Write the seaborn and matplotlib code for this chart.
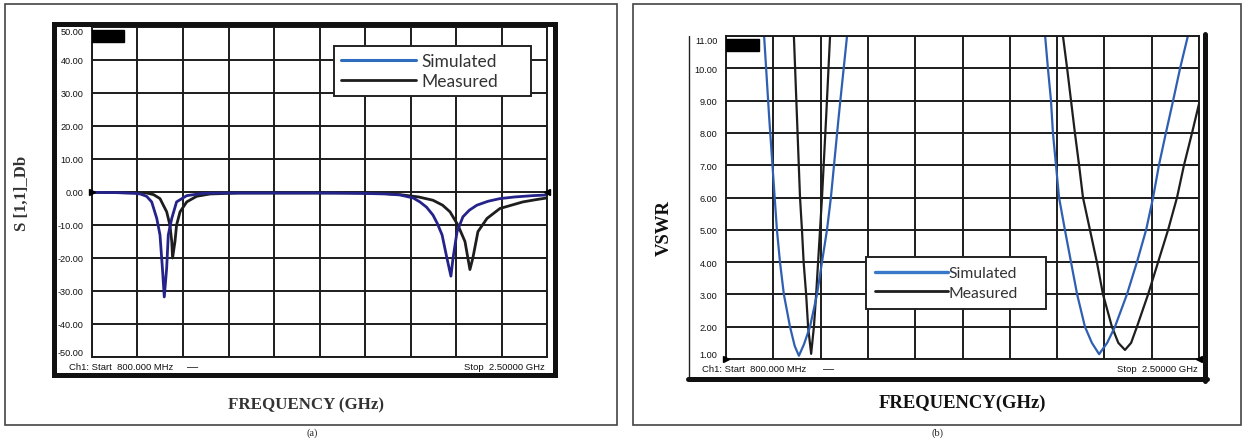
import numpy as np
import pandas as pd
import matplotlib
matplotlib.use("Agg")
import matplotlib.pyplot as plt
import seaborn as sns
from matplotlib.patches import Rectangle
from matplotlib.lines import Line2D

# ---------------- data ----------------
# (a) S11 in dB
s11_sim_f = [0.80, 0.90, 0.96, 0.98, 1.004, 1.023, 1.042, 1.054, 1.063, 1.070,
             1.079, 1.085, 1.098, 1.116, 1.154, 1.215, 1.30, 1.50, 1.70, 1.80,
             1.90, 1.951, 2.00, 2.025, 2.05, 2.074, 2.09, 2.108, 2.126, 2.141,
             2.149, 2.164, 2.186, 2.21, 2.238, 2.28, 2.324, 2.38, 2.448, 2.50]
s11_sim_v = [-0.1, -0.2, -0.4, -0.6, -1.3, -3.0, -8.0, -13.0, -23.0, -31.8,
             -23.0, -13.0, -8.0, -3.0, -1.1, -0.4, -0.3, -0.3, -0.3, -0.4,
             -0.6, -0.9, -1.8, -3.0, -4.6, -7.0, -9.5, -13.0, -20.0, -25.5,
             -20.0, -12.0, -7.5, -5.5, -4.0, -2.8, -2.0, -1.5, -1.1, -0.9]

s11_mea_f = [0.80, 0.90, 1.004, 1.03, 1.054, 1.079, 1.091, 1.098, 1.101, 1.110,
             1.116, 1.129, 1.154, 1.191, 1.241, 1.35, 1.55, 1.75, 1.876, 1.951,
             2.02, 2.074, 2.11, 2.1375, 2.167, 2.1935, 2.212, 2.223, 2.242, 2.276,
             2.324, 2.41, 2.46, 2.50]
s11_mea_v = [-0.1, -0.2, -0.3, -0.8, -2.0, -6.0, -10.0, -15.0, -20.0, -15.0,
             -10.0, -6.0, -3.0, -1.3, -0.6, -0.3, -0.3, -0.3, -0.4, -0.8,
             -1.5, -2.5, -4.0, -6.0, -10.0, -15.0, -23.5, -20.0, -12.0, -8.0,
             -5.0, -3.0, -2.3, -1.8]

# (b) VSWR, two bands per series
vswr_sim_f1 = [0.937, 0.955, 0.975, 0.983, 0.994, 1.008, 1.030, 1.047, 1.062,
               1.080, 1.102, 1.127, 1.145, 1.163, 1.177, 1.205, 1.235]
vswr_sim_v1 = [11.0, 8.5, 6.0, 5.0, 4.0, 3.0, 2.0, 1.4, 1.1,
               1.45, 2.0, 3.0, 4.0, 5.0, 6.0, 8.5, 11.0]
vswr_sim_f2 = [1.947, 1.957, 1.968, 1.975, 1.986, 1.997, 2.018, 2.040, 2.062,
               2.090, 2.115, 2.141, 2.170, 2.198, 2.241, 2.277, 2.310, 2.335,
               2.356, 2.381, 2.407, 2.432, 2.460]
vswr_sim_v2 = [11.0, 10.0, 9.0, 8.0, 7.0, 6.0, 5.0, 4.0, 3.0,
               2.0, 1.5, 1.15, 1.5, 2.0, 3.0, 4.0, 5.0, 6.0,
               7.0, 8.0, 9.0, 10.0, 11.0]
vswr_mea_f1 = [1.044, 1.066, 1.073, 1.079, 1.088, 1.095, 1.106, 1.116, 1.124,
               1.131, 1.138, 1.145, 1.160, 1.174]
vswr_mea_v1 = [11.0, 6.0, 5.0, 4.0, 3.0, 2.0, 1.16, 2.0, 3.0,
               4.0, 5.0, 6.0, 8.5, 11.0]
vswr_mea_f2 = [2.011, 2.026, 2.040, 2.054, 2.069, 2.083, 2.108, 2.133, 2.155,
               2.187, 2.210, 2.234, 2.256, 2.277, 2.317, 2.353, 2.389, 2.421,
               2.446, 2.475, 2.50]
vswr_mea_v2 = [11.0, 10.0, 9.0, 8.0, 7.0, 6.0, 5.0, 4.0, 3.0,
               2.0, 1.5, 1.28, 1.5, 2.0, 3.0, 4.0, 5.0, 6.0,
               7.0, 8.0, 8.9]

series_names = ["Simulated", "Measured"]
s11_ticks = [-50, -40, -30, -20, -10, 0, 10, 20, 30, 40, 50]
vswr_ticks = [1, 2, 3, 4, 5, 6, 7, 8, 9, 10, 11]
f_start, f_stop = 0.8, 2.5

# ---------------- tables ----------------
df_a = pd.concat([
    pd.DataFrame({"freq": s11_sim_f, "val": s11_sim_v, "series": "Simulated", "seg": 0}),
    pd.DataFrame({"freq": s11_mea_f, "val": s11_mea_v, "series": "Measured", "seg": 0}),
], ignore_index=True)
df_b = pd.concat([
    pd.DataFrame({"freq": vswr_sim_f1, "val": vswr_sim_v1, "series": "Simulated", "seg": 1}),
    pd.DataFrame({"freq": vswr_sim_f2, "val": vswr_sim_v2, "series": "Simulated", "seg": 2}),
    pd.DataFrame({"freq": vswr_mea_f1, "val": vswr_mea_v1, "series": "Measured", "seg": 3}),
    pd.DataFrame({"freq": vswr_mea_f2, "val": vswr_mea_v2, "series": "Measured", "seg": 4}),
], ignore_index=True)

# ---------------- style ----------------
sns.set_style("white")
plt.rcParams["font.family"] = ["Liberation Sans", "DejaVu Sans"]

W, H = 1248, 439
fig = plt.figure(figsize=(W / 100, H / 100), dpi=100)
fig.patch.set_facecolor("white")

def fx(px):
    return px / W

def fy(py):
    return 1 - py / H

grid_col = "#1c1c1c"
ax_a = fig.add_axes([fx(92), fy(358), 455 / W, 330 / H])
ax_b = fig.add_axes([fx(726), fy(360), 473 / W, 323 / H])

xt = [f_start + k * (f_stop - f_start) / 10 for k in range(11)]

sns.lineplot(data=df_a, x="freq", y="val", hue="series", units="seg", estimator=None,
             palette={"Simulated": "#24238a", "Measured": "#1e1e1e"},
             hue_order=["Measured", "Simulated"], sort=False, legend=False,
             ax=ax_a, linewidth=2.0)
sns.lineplot(data=df_b, x="freq", y="val", hue="series", units="seg", estimator=None,
             palette={"Simulated": "#2f5fb3", "Measured": "#1e1e1e"},
             hue_order=["Measured", "Simulated"], sort=False, legend=False,
             ax=ax_b, linewidth=1.6)

for ax, ticks, lo, hi in [(ax_a, s11_ticks, -50, 50), (ax_b, vswr_ticks, 1, 11)]:
    ax.set_xlim(f_start, f_stop)
    ax.set_ylim(lo, hi)
    ax.set_xticks(xt)
    ax.set_xticklabels([])
    ax.set_yticks(ticks)
    ax.set_yticklabels([f"{t:.2f}" for t in ticks], fontsize=6.6, color="#111111")
    ax.tick_params(axis="both", length=0, pad=6)
    ax.grid(True, color=grid_col, linewidth=1.4)
    ax.set_axisbelow(True)
    for sp in ax.spines.values():
        sp.set_color(grid_col)
        sp.set_linewidth(1.4)
    tl = ax.get_yticklabels()
    tl[0].set_va("bottom")
    tl[-1].set_va("top")
    ax.set_xlabel("")
    ax.set_ylabel("")
    # black marker box at top-left of the screen
    ax.add_patch(Rectangle((0.0, 0.955), 0.07, 0.035, transform=ax.transAxes,
                           facecolor="black", edgecolor="black", zorder=5))

# start / stop arrows
ax_a.plot([f_start], [0], marker=">", color="black", markersize=4, clip_on=False, zorder=6)
ax_a.plot([f_stop], [0], marker="<", color="black", markersize=4, clip_on=False, zorder=6)
ax_b.plot([f_start], [1], marker=">", color="black", markersize=4, clip_on=False, zorder=6)
ax_b.plot([f_stop], [1], marker="<", color="black", markersize=4, clip_on=False, zorder=6)

# axis labels
serif = ["Liberation Serif", "DejaVu Serif"]
ax_a.set_xlabel("FREQUENCY (GHz)", family=serif, fontweight="bold", fontsize=12.2, color="#333333")
ax_a.xaxis.set_label_coords((306 - 92) / 455, (358 - 405) / 330)
ax_a.xaxis.label.set_va("center")
ax_a.set_ylabel("S [1,1]_Db", family=serif, fontweight="bold", fontsize=12, color="#333333")
ax_a.yaxis.set_label_coords((22 - 92) / 455, (358 - 193) / 330)
ax_a.yaxis.label.set_va("center")

ax_b.set_xlabel("FREQUENCY(GHz)", family=serif, fontweight="bold", fontsize=13.4, color="#111111")
ax_b.xaxis.set_label_coords((962 - 726) / 473, (360 - 403) / 323)
ax_b.xaxis.label.set_va("center")
ax_b.set_ylabel("VSWR", family=serif, fontweight="bold", fontsize=13.5, color="#111111")
ax_b.yaxis.set_label_coords((664 - 726) / 473, (360 - 228) / 323)
ax_b.yaxis.label.set_va("center")

# legends
leg_font = ["Lato", "DejaVu Sans"]
h_a = [Line2D([0], [0], color="#2f6cc0", lw=2.2), Line2D([0], [0], color="#1e1e1e", lw=2.0)]
x0a, x1a, y0a, y1a = 334, 531, 47, 96
la = ax_a.legend(h_a, series_names, loc="upper left", mode="expand",
                 bbox_to_anchor=((x0a - 92) / 455, (358 - y1a) / 330,
                                 (x1a - x0a) / 455, (y1a - y0a) / 330),
                 borderaxespad=0, frameon=True, fancybox=False, framealpha=1,
                 handlelength=4.3, handletextpad=0.35, labelspacing=0.22,
                 borderpad=0.4, prop={"family": leg_font, "size": 12.5})
la.get_frame().set_edgecolor("#222222")
la.get_frame().set_linewidth(1.4)
for t in la.get_texts():
    t.set_color("#333333")

h_b = [Line2D([0], [0], color="#3a78c8", lw=2.4), Line2D([0], [0], color="#1e1e1e", lw=2.0)]
x0b, x1b, y0b, y1b = 866, 1046, 258, 308
lb = ax_b.legend(h_b, series_names, loc="upper left", mode="expand",
                 bbox_to_anchor=((x0b - 726) / 473, (360 - y1b) / 323,
                                 (x1b - x0b) / 473, (y1b - y0b) / 323),
                 borderaxespad=0, frameon=True, fancybox=False, framealpha=1,
                 handlelength=4.6, handletextpad=0.05, labelspacing=0.33,
                 borderpad=0.6, prop={"family": leg_font, "size": 11.3})
lb.get_frame().set_edgecolor("#222222")
lb.get_frame().set_linewidth(1.4)
for t in lb.get_texts():
    t.set_color("#333333")

# outer boxes
fig.add_artist(Rectangle((fx(5), fy(426)), 612 / W, 421 / H, transform=fig.transFigure,
                         fill=False, edgecolor="#444444", linewidth=1.2))
fig.add_artist(Rectangle((fx(633), fy(426)), 608 / W, 421 / H, transform=fig.transFigure,
                         fill=False, edgecolor="#444444", linewidth=1.2))
# analyzer screen frames
fig.add_artist(Rectangle((fx(54), fy(375.5)), 501 / W, 350.5 / H, transform=fig.transFigure,
                         fill=False, edgecolor="#111111", linewidth=3.6))
fig.add_artist(Line2D([fx(689), fx(689)], [fy(37), fy(380)], transform=fig.transFigure,
                      color="#222222", linewidth=1.0))
fig.add_artist(Line2D([fx(688), fx(1207)], [fy(380), fy(380)], transform=fig.transFigure,
                      color="#111111", linewidth=3.6))
fig.add_artist(Line2D([fx(1205), fx(1205)], [fy(35), fy(382)], transform=fig.transFigure,
                      color="#111111", linewidth=3.6))

# status text
for x0, y0, xd, xs in [(69, 367, 187, 545), (702, 369, 823, 1198)]:
    fig.text(fx(x0), fy(y0), "Ch1: Start  800.000 MHz", fontsize=6.8, va="center", ha="left",
             color="#111111")
    fig.text(fx(xd), fy(y0), "\u2014", fontsize=8, va="center", ha="left", color="#111111")
    fig.text(fx(xs), fy(y0), "Stop  2.50000 GHz", fontsize=6.8, va="center", ha="right",
             color="#111111")

# sub-figure captions
fig.text(fx(312), fy(428), "(a)", family=serif, fontsize=7.5, va="top", ha="center")
fig.text(fx(937), fy(428), "(b)", family=serif, fontsize=7.5, va="top", ha="center")

fig.savefig("out.png", dpi=100, facecolor="white")
